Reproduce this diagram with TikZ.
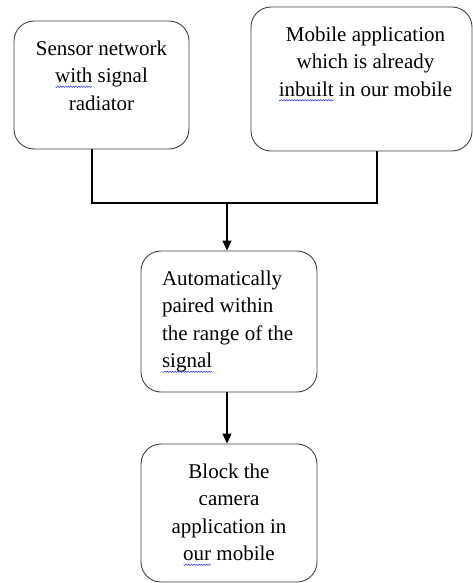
\documentclass[tikz,border=0pt]{standalone}
\usepackage{fontspec}
\setmainfont{Liberation Serif}
\usetikzlibrary{arrows.meta}
\newlength\wavylen
\newcount\wavyk
\newcommand\wavy[1]{\settowidth\wavylen{#1}\pgfmathtruncatemacro\wavyn{\wavylen/1.3}%
\makebox[0pt][l]{\begin{pgfpicture}\pgfsetbaseline{0pt}\pgfsetlinewidth{0.5pt}\pgfsetstrokecolor{blue!80!white}%
\pgfpathmoveto{\pgfpoint{0pt}{-4.2pt}}\wavyk=0
\loop\ifnum\wavyk<\wavyn\relax\advance\wavyk by 1
\ifodd\wavyk\pgfpathlineto{\pgfpoint{\the\wavyk*1.3pt}{-4.9pt}}\else\pgfpathlineto{\pgfpoint{\the\wavyk*1.3pt}{-3.5pt}}\fi
\repeat\pgfusepath{stroke}\end{pgfpicture}}#1}
\newcommand\boxtext[4]{\begin{minipage}[c][#2][t]{#1}#3\vspace*{19.5pt}#4\end{minipage}}
\newcommand\boxfont{\fontsize{21}{27.5}\selectfont}
\newsavebox\wWith \newsavebox\wInbuilt \newsavebox\wSignal \newsavebox\wOur
\tikzset{
  box/.style={draw=black!75, line width=0.9pt, rounded corners=20pt, inner sep=0pt, font=\boxfont},
  conn/.style={draw=black, line width=1.2pt},
  arrow/.style={conn, -{Triangle[length=10pt,width=9pt]}}
}
\begin{document}
\sbox\wWith{\boxfont\wavy{with}}%
\sbox\wInbuilt{\boxfont\wavy{inbuilt}}%
\sbox\wSignal{\boxfont\wavy{signal}}%
\sbox\wOur{\boxfont\wavy{our}}%
\begin{tikzpicture}[x=1pt,y=-1pt]
\useasboundingbox (0,0) rectangle (473,583);
\node[box] (b1) at (101.5,85) {\boxtext{175pt}{128pt}{\centering}{Sensor network\\ \usebox\wWith{} signal\\ radiator}};
\node[box] (b2) at (361.5,79) {\boxtext{221pt}{144pt}{\centering\leftskip=8pt plus 1fil}{Mobile application\\ which is already\\ \usebox\wInbuilt{} in our mobile}};
\node[box] (b3) at (229,321.5) {\boxtext{176pt}{141pt}{\raggedright\leftskip=21pt}{Automatically\\ paired within\\ the range of the\\ \usebox\wSignal}};
\node[box] (b4) at (229,513) {\boxtext{176pt}{138pt}{\centering}{Block the\\ camera\\ application in\\ \usebox\wOur{} mobile}};
\coordinate (j) at (227,203);
\draw[conn] ([xshift=-9.5pt]b1.south) |- (j) -| ([xshift=15.5pt]b2.south);
\draw[arrow] (j) -- (j |- b3.north);
\draw[arrow] (b3.south -| j) -- (b4.north -| j);
\end{tikzpicture}
\end{document}
